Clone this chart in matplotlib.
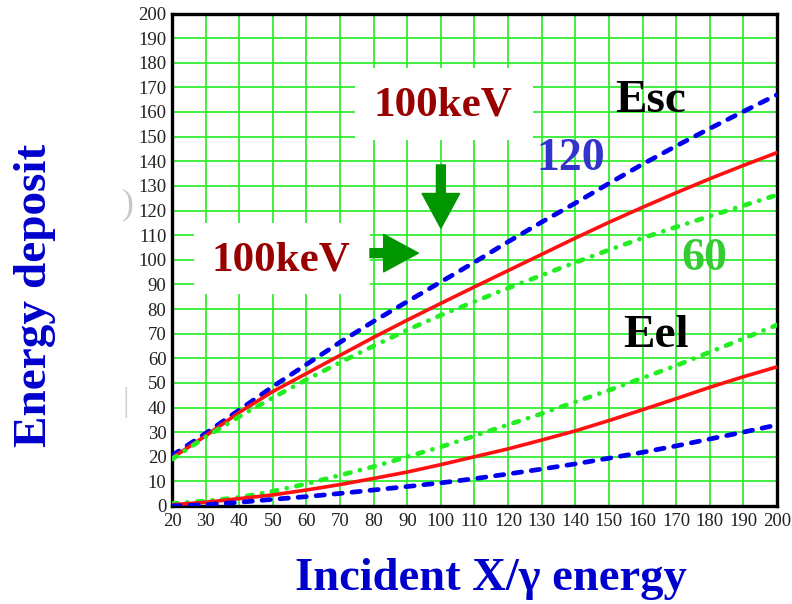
import matplotlib
matplotlib.use("Agg")
import matplotlib.pyplot as plt
from matplotlib.patches import Rectangle, FancyArrowPatch

# ---------------- data ----------------
energy = [20, 30, 40, 50, 60, 70, 80, 90, 100, 110, 120, 130, 140, 150, 160, 170, 180, 190, 200]

esc_120 = [20.5, 29.5, 39, 48.5, 57.5, 66.5, 75, 83, 91, 99, 107.3, 115.3, 123, 131, 138.8, 146.2, 153.3, 160.2, 167]
esc_100 = [19.5, 28.5, 38, 46.5, 53.8, 61.2, 68.5, 75.5, 82.3, 89, 95.6, 102.2, 108.8, 115.2, 121.3, 127.2, 132.9, 138.3, 143.5]
esc_60 = [19, 28, 36.3, 44, 51.3, 58.3, 65, 71.5, 77.5, 83, 88.5, 93.7, 98.9, 104, 108.8, 113.3, 117.7, 122, 126.3]

eel_60 = [1, 2, 3.5, 6, 9, 12.5, 16, 20, 24, 28.5, 33, 37.5, 42.3, 47, 52, 57, 62.5, 68, 73.5]
eel_100 = [0.5, 1.5, 3, 4.5, 6.5, 8.7, 11.2, 13.8, 16.8, 20, 23.2, 26.8, 30.5, 34.7, 39.1, 43.6, 48.2, 52.5, 56.5]
eel_120 = [0, 0.5, 1.5, 2.7, 3.8, 5.1, 6.5, 7.9, 9.4, 11.1, 13, 15, 17.1, 19.4, 21.8, 24.4, 27.2, 30, 32.9]

x_ticks = list(range(20, 201, 10))
y_ticks = list(range(0, 201, 10))

# ---------------- figure ----------------
plt.rcParams['font.family'] = ['Liberation Serif', 'DejaVu Serif']
plt.rcParams['lines.scale_dashes'] = False

fig = plt.figure(figsize=(7.92, 6.04), dpi=100)
ax = fig.add_axes([172/792, 1-506/604, (777-172)/792, (506-13.5)/604])

ax.set_xlim(20, 200)
ax.set_ylim(0, 200)
ax.set_xticks(x_ticks)
ax.set_yticks(y_ticks)
ax.grid(True, color='#33ee33', lw=1.3)
ax.set_axisbelow(True)
ax.tick_params(length=0, labelsize=13.5, labelcolor='#222222')
ax.tick_params(axis='x', pad=5)
ax.tick_params(axis='y', pad=4)
for s in ax.spines.values():
    s.set_linewidth(2.4)
    s.set_color('black')

blue = '#0000ee'
red = '#ff1111'
green = '#22ee22'
dash_b = (0, (6, 7))
dashdot_g = (0, (4, 7, 0.1, 7))

ax.plot(energy, esc_120, color=blue, lw=3.4, ls=dash_b, dash_capstyle='round', zorder=3)
ax.plot(energy, esc_100, color=red, lw=2.6, zorder=3)
ax.plot(energy, esc_60, color=green, lw=3.4, ls=dashdot_g, dash_capstyle='round', zorder=3)

ax.plot(energy, eel_60, color=green, lw=3.4, ls=dashdot_g, dash_capstyle='round', zorder=3)
ax.plot(energy, eel_100, color=red, lw=2.6, zorder=3)
ax.plot(energy, eel_120, color=blue, lw=3.4, ls=dash_b, dash_capstyle='round', zorder=3)

# white label boxes covering the grid
ax.add_patch(Rectangle((74.4, 148.6), 53.0, 29.3, facecolor='white', edgecolor='none', zorder=1))
ax.add_patch(Rectangle((26.5, 86.0), 52.5, 28.8, facecolor='white', edgecolor='none', zorder=1))

kev = '#990000'
ax.text(100.5, 162.5, '100keV', color=kev, fontsize=31, fontweight='bold', ha='center', va='center', zorder=4)
ax.text(52.5, 99.5, '100keV', color=kev, fontsize=31, fontweight='bold', ha='center', va='center', zorder=4)
ax.text(162.5, 164.5, 'Esc', color='black', fontsize=34, fontweight='bold', ha='center', va='center', zorder=4)
ax.text(138.5, 141.0, '120', color='#3333cc', fontsize=33, fontweight='bold', ha='center', va='center', zorder=4)
ax.text(178.5, 100.5, '60', color='#33cc33', fontsize=33, fontweight='bold', ha='center', va='center', zorder=4)
ax.text(164.0, 69.0, 'Eel', color='black', fontsize=34, fontweight='bold', ha='center', va='center', zorder=4)

arrow_green = '#009600'
astyle = 'simple,head_length=1.25,head_width=1.35,tail_width=0.32'
ax.add_patch(FancyArrowPatch((78.9, 102.7), (93.3, 102.7), arrowstyle=astyle, mutation_scale=20,
                             color=arrow_green, shrinkA=0, shrinkB=0, zorder=4))
ax.add_patch(FancyArrowPatch((100.0, 138.5), (100.0, 112.8), arrowstyle=astyle, mutation_scale=20,
                             color=arrow_green, shrinkA=0, shrinkB=0, zorder=4))

# axis titles
label_blue = '#0000cc'
fig.text(35/792, 1-295/604, 'Energy deposit', rotation=90, color=label_blue, fontsize=34,
         fontweight='bold', ha='center', va='center')
fig.text(491/792, 1-579/604, 'Incident X/\u03b3 energy', color=label_blue, fontsize=33.5,
         fontweight='bold', ha='center', va='center')

# faint marks at the left
fig.text(128/792, 1-205/604, ')', color='#c8c8c8', fontsize=26, ha='center', va='center')
fig.text(126/792, 1-403/604, '|', color='#d0d0d0', fontsize=24, ha='center', va='center')

fig.savefig('out.png', dpi=100)
